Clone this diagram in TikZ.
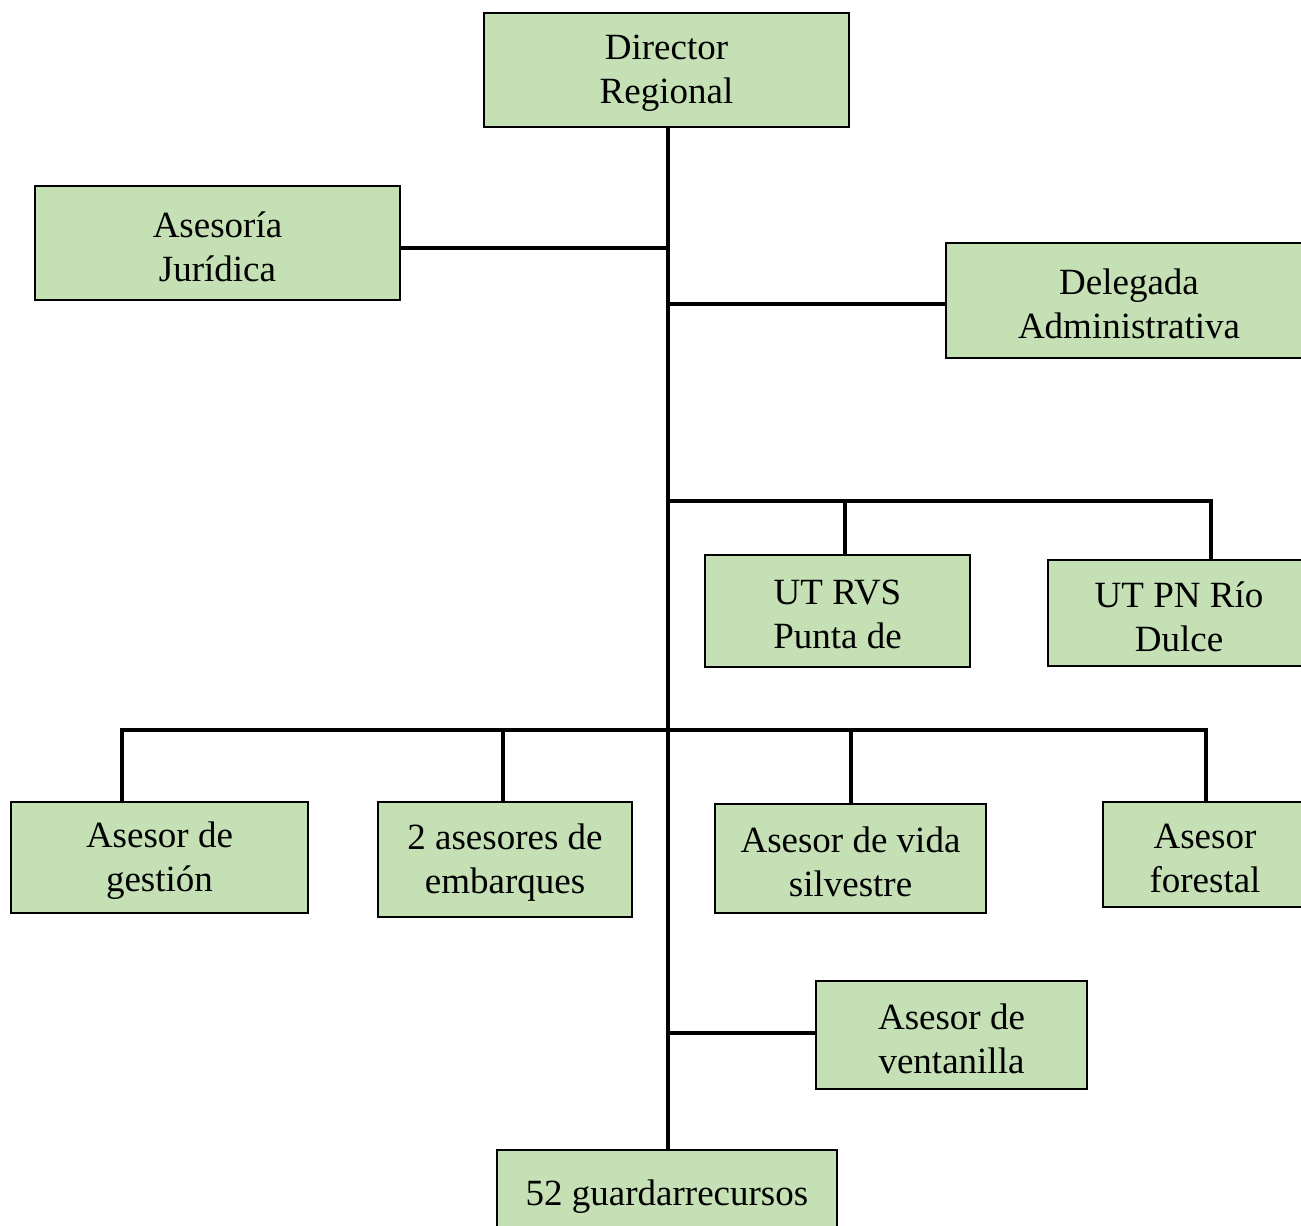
\documentclass[tikz,border=0pt]{standalone}
\usepackage{fontspec}
\setmainfont{Liberation Serif}
\definecolor{boxgreen}{RGB}{197,224,180}
\begin{document}
\begin{tikzpicture}[x=1pt,y=-1pt,
  orgbox/.style={draw=black, fill=boxgreen, line width=2.2pt, rectangle, inner sep=0pt},
  boxtext/.style={inner sep=0pt, align=center, font=\fontsize{37}{44}\selectfont, yshift=-3.5pt},
  link/.style={line width=3.6pt, black}]
\useasboundingbox (0,0) rectangle (1301,1226);
\clip (0,0) rectangle (1301,1226);
% boxes: centre, width, height
\node[orgbox, minimum width=365pt, minimum height=114pt] (dir) at (666.5,70) {};
\node[orgbox, minimum width=365pt, minimum height=114pt] (jur) at (217.5,243) {};
\node[orgbox, minimum width=366pt, minimum height=115pt] (del) at (1129,300.5) {};
\node[orgbox, minimum width=265pt, minimum height=112pt] (rvs) at (837.5,611) {};
\node[orgbox, minimum width=262pt, minimum height=106pt] (pn) at (1179,613) {};
\node[orgbox, minimum width=297pt, minimum height=111pt] (ges) at (159.5,857.5) {};
\node[orgbox, minimum width=254pt, minimum height=115pt] (emb) at (505,859.5) {};
\node[orgbox, minimum width=271pt, minimum height=109pt] (vid) at (850.5,858.5) {};
\node[orgbox, minimum width=204pt, minimum height=105pt] (for) at (1205,854.5) {};
\node[orgbox, minimum width=271pt, minimum height=108pt] (ven) at (951.5,1035) {};
\node[orgbox, minimum width=340pt, minimum height=86pt] (gua) at (667,1193) {};
% texts
\node[boxtext] (dirT) at (dir.center) {Director\\Regional};
\node[boxtext] (jurT) at (jur.center) {Asesoría\\Jurídica};
\node[boxtext] (delT) at (del.center) {Delegada\\Administrativa};
\node[boxtext] (rvsT) at (rvs.center) {UT RVS\\Punta de};
\node[boxtext] (pnT) at (pn.center) {UT PN Río\\Dulce};
\node[boxtext] (gesT) at (ges.center) {Asesor de\\gestión};
\node[boxtext] (embT) at (emb.center) {2 asesores de\\embarques};
\node[boxtext] (vidT) at (vid.center) {Asesor de vida\\silvestre};
\node[boxtext] (forT) at (for.center) {Asesor\\forestal};
\node[boxtext] (venT) at (ven.center) {Asesor de\\ventanilla};
\node[boxtext] (guaT) at (gua.center) {52 guardarrecursos};
% junction coordinates
\coordinate (jA) at (668,248);
\coordinate (jB) at (668,304);
\coordinate (jC) at (668,501);
\coordinate (jE) at (668,1033);
\coordinate (kRVS) at (845,501);
\coordinate (kPN) at (1211,501);
\coordinate (bL) at (122,730);
\coordinate (bR) at (1206,730);
\coordinate (bEmb) at (503,730);
\coordinate (bVid) at (851,730);
% connectors
\draw[link] (dir.south -| jA) -- (gua.north -| jA);
\draw[link] (jur.east |- jA) -- (jA);
\draw[link] (jB) -- (del.west |- jB);
\draw[link] (jC) -- (kPN) -- (kPN |- pn.north);
\draw[link] (kRVS) -- (kRVS |- rvs.north);
\draw[link] (ges.north -| bL) -- (bL) -- (bR) -- (bR |- for.north);
\draw[link] (bEmb) -- (bEmb |- emb.north);
\draw[link] (bVid) -- (bVid |- vid.north);
\draw[link] (jE) -- (ven.west |- jE);
\end{tikzpicture}
\end{document}
